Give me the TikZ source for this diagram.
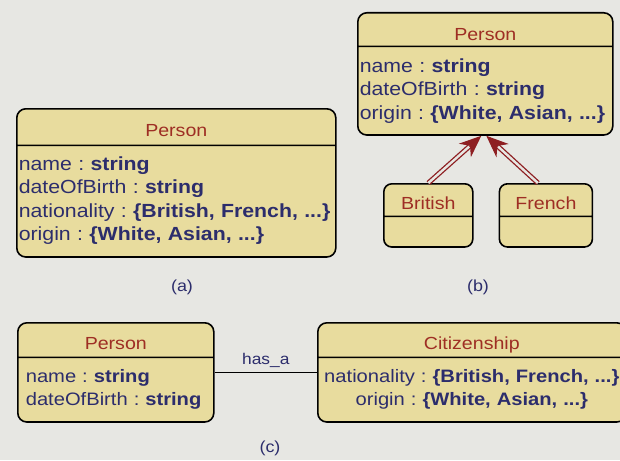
\documentclass[tikz,border=0pt]{standalone}
\usepackage{fontspec}
\setmainfont[FakeStretch=1.12]{Liberation Sans}
\usetikzlibrary{shapes}
\usetikzlibrary{positioning}
\usetikzlibrary{calc}
\usetikzlibrary{arrows.meta}
\definecolor{paper}{HTML}{E7E7E3}
\definecolor{classfill}{HTML}{E8DC9E}
\definecolor{classname}{HTML}{9E2E24}
\definecolor{attrtext}{HTML}{2C2D6C}
\definecolor{genred}{HTML}{8E1F22}
\newcommand{\VSpan}[2]{\rule[-#2]{0pt}{\dimexpr#1+#2\relax}}
\newcommand{\ClassName}[3]{\centering\VSpan{#2}{#3}{\color{classname}\fontsize{17.5}{20}\selectfont #1}\par}
\tikzstyle{class}=[draw,line width=1.6pt,fill=classfill,rounded corners=9pt,rectangle split,rectangle split parts=2,inner xsep=2pt,inner ysep=0pt,align=left,text=attrtext,font=\fontsize{19}{23.5}\selectfont\frenchspacing,anchor=north west]
\tikzstyle{genhead}=[draw=genred,line width=1pt,-{Stealth[length=22pt,width=18pt,inset=7pt]}]
\tikzstyle{genline}=[draw=genred,double=paper,double distance=2.4pt,line width=1.3pt,shorten >=14pt]
\tikzstyle{assoc}=[draw,line width=1.3pt]

\begin{document}
\begin{tikzpicture}
	[x=1pt,y=-1pt,node distance=25pt]
	\tikzstyle{caption}=[text=attrtext,font=\fontsize{16}{19}\selectfont];
	\path[use as bounding box,fill=paper] (0,0) rectangle (620,460);
	% (a)
	\node (pa) [class,text width=315pt] at (16,108)
		{\ClassName{Person}{26.5pt}{8.5pt}\nodepart{two}\VSpan{24pt}{0pt}name : \textbf{string}\\
		dateOfBirth : \textbf{string}\\
		nationality : \textbf{\{British, French, ...\}}\\
		origin : \textbf{\{White, Asian, ...\}}\VSpan{0pt}{15.5pt}};
	% (b)
	\node (pb) [class,text width=251pt] at (357,12)
		{\ClassName{Person}{26.5pt}{5.5pt}\nodepart{two}\VSpan{25pt}{0pt}name : \textbf{string}\\
		dateOfBirth : \textbf{string}\\
		origin : \textbf{\{White, Asian, ...\}}\VSpan{0pt}{15pt}};
	\node (british) [class,rounded corners=8pt,text width=85pt] at (383,183)
		{\ClassName{British}{24.5pt}{6.5pt}\nodepart{two}\VSpan{29pt}{0pt}};
	\node (french) [class,rounded corners=8pt,text width=89pt,anchor=west,right=of british]
		{\ClassName{French}{24.5pt}{6.5pt}\nodepart{two}\VSpan{29pt}{0pt}};
	\coordinate (tipb) at ([xshift=-4pt]pb.south);
	\coordinate (tipf) at ([xshift=1pt]pb.south);
	\path[genline] (british.north) -- (tipb);
	\path[genhead] ($(tipb)!16pt!(british.north)$) -- (tipb);
	\path[genline] ([xshift=-8pt]french.north) -- (tipf);
	\path[genhead] ($(tipf)!16pt!([xshift=-8pt]french.north)$) -- (tipf);
	% (c)
	\node (pc) [class,font=\fontsize{18}{23.5}\selectfont\frenchspacing,inner xsep=8pt,text width=180pt] at (17,322)
		{\ClassName{Person}{25.5pt}{7.5pt}\nodepart{two}\VSpan{24pt}{0pt}name : \textbf{string}\\
		dateOfBirth : \textbf{string}\VSpan{0pt}{15.5pt}};
	\node (cit) [class,font=\fontsize{18}{23.5}\selectfont\frenchspacing,text width=304pt] at (317,322)
		{\ClassName{Citizenship}{25.5pt}{7.5pt}\nodepart{two}\centering\VSpan{24pt}{0pt}nationality : \textbf{\{British, French, ...\}}\\
		origin : \textbf{\{White, Asian, ...\}}\VSpan{0pt}{15.5pt}\par};
	\path[assoc] (pc.east) -- node[above=1pt,text=attrtext,font=\fontsize{15.5}{18}\selectfont] {has\_a} (cit.west);
	% captions
	\node (capa) [caption] at (182,287) {(a)};
	\node (capb) [caption] at (478,287) {(b)};
	\node (capc) [caption] at (270,448) {(c)};
\end{tikzpicture}
\end{document}
